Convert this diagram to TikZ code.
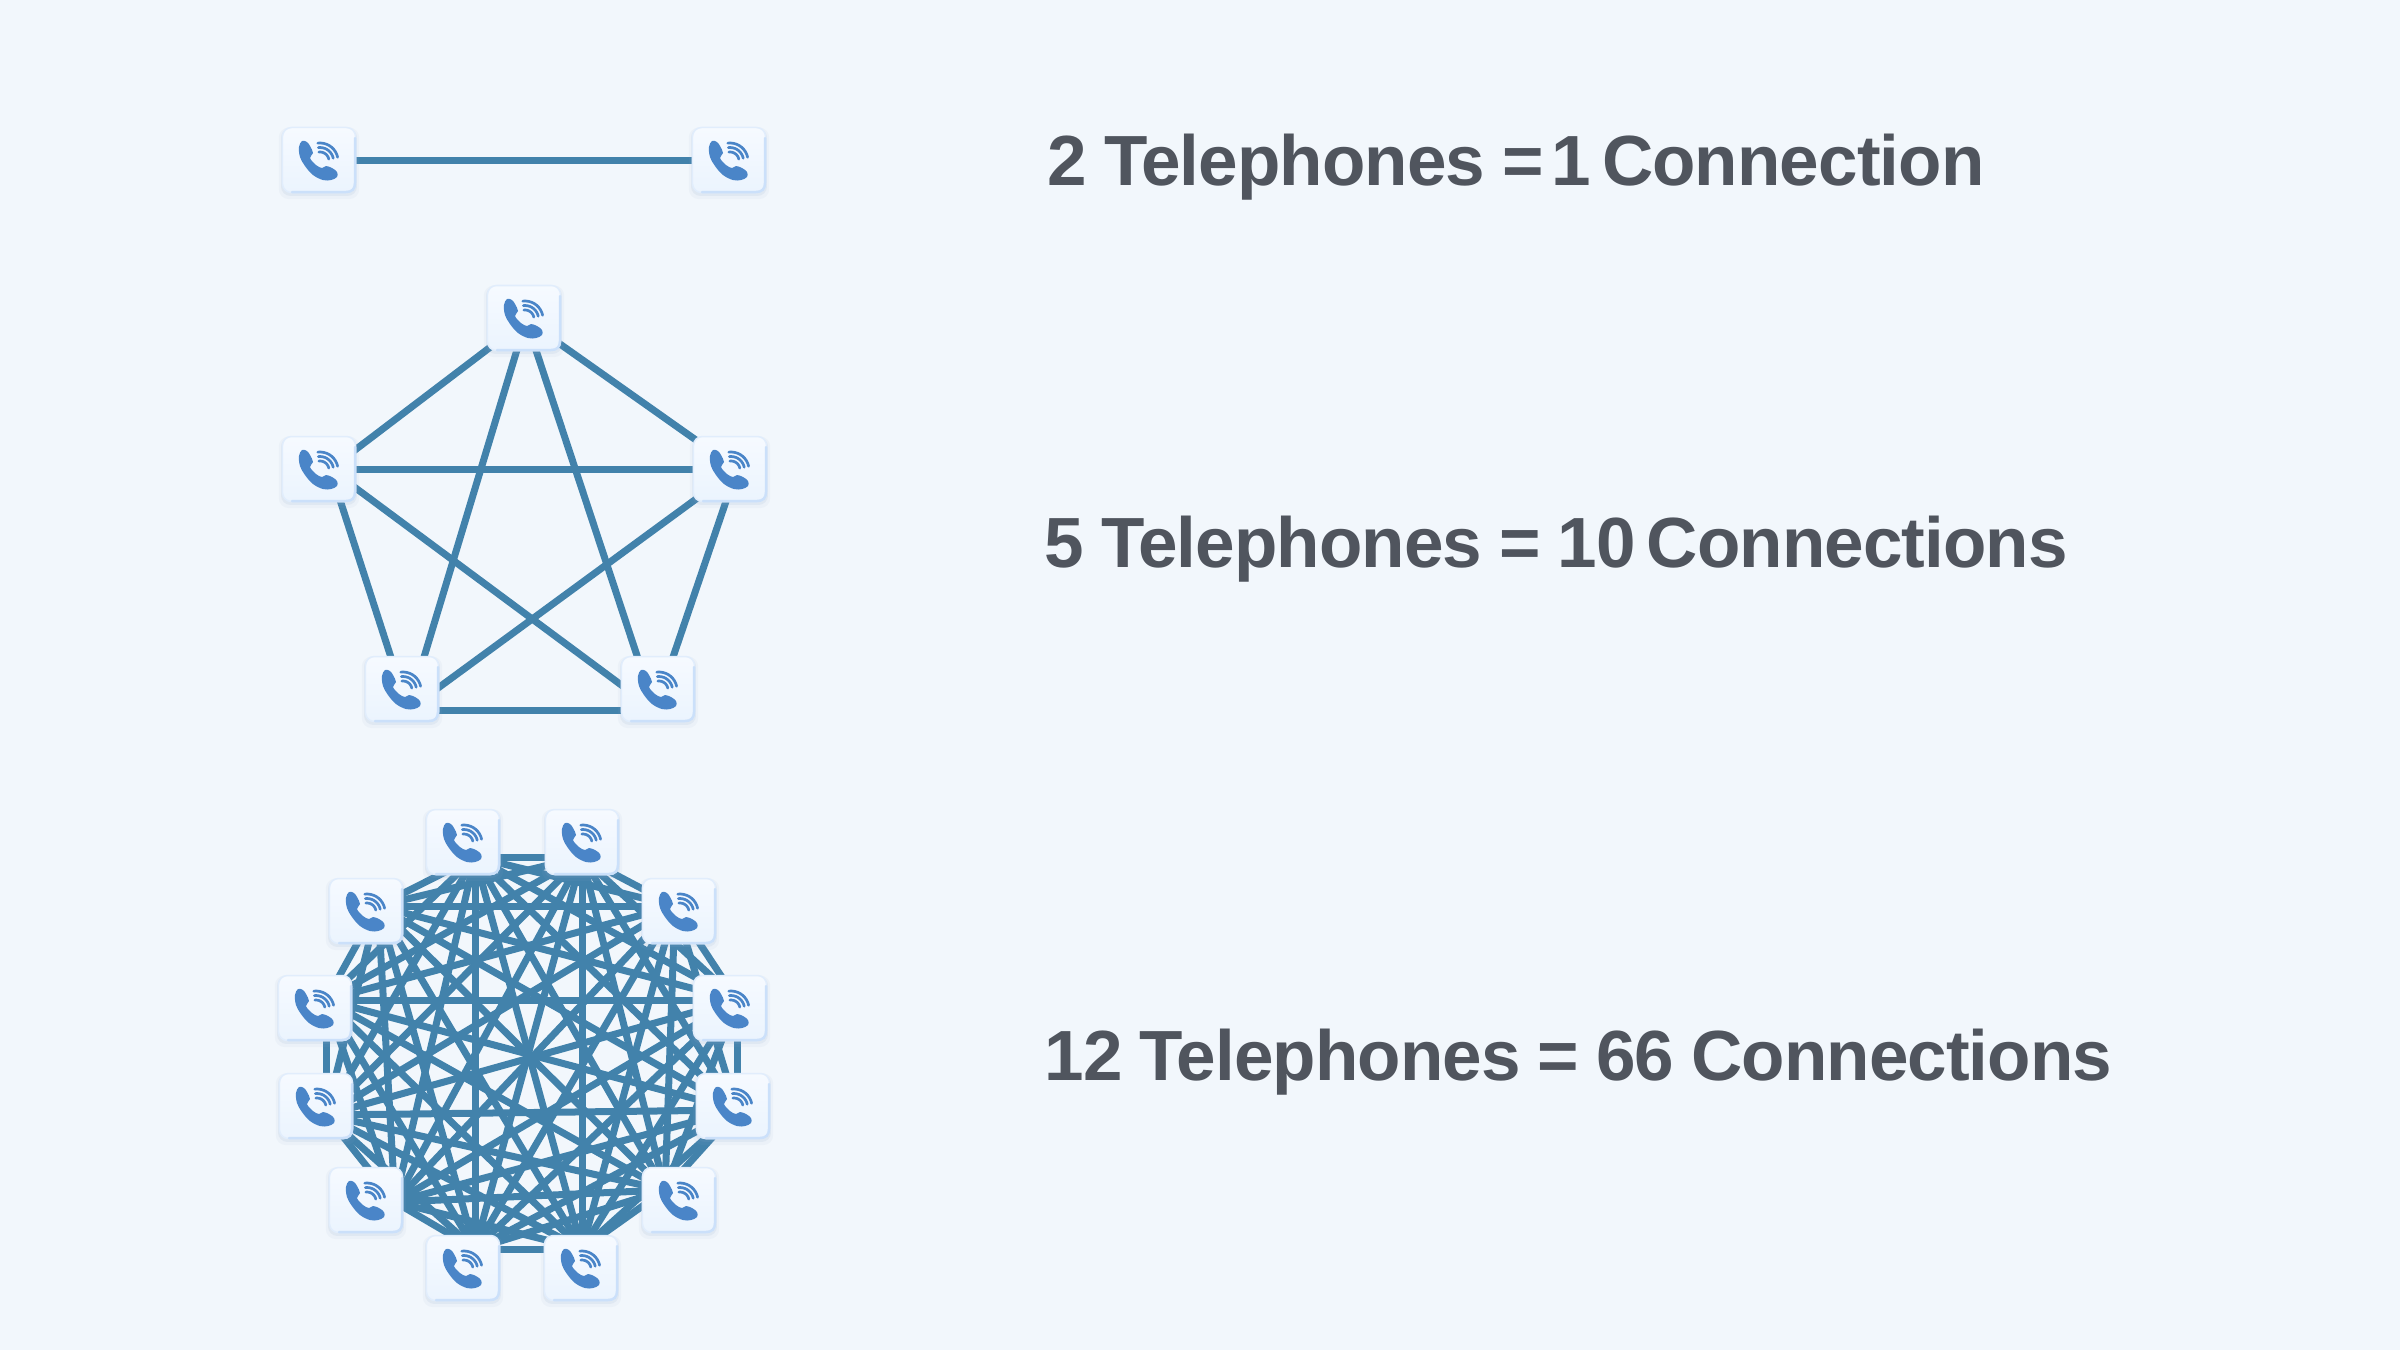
\documentclass[tikz,border=0pt]{standalone}
\usepackage{fontspec}
\setmainfont[LetterSpace=-1.3,WordSpace=0.9]{Liberation Sans}
\usetikzlibrary{backgrounds,shadows}
\definecolor{pagebg}{HTML}{F2F7FC}
\definecolor{wirecol}{HTML}{4282AB}
\definecolor{boxtop}{HTML}{F6FAFF}
\definecolor{boxbot}{HTML}{EBF4FE}
\definecolor{boxedge}{HTML}{E1EDFC}
\definecolor{boxbevel}{HTML}{CBE0FA}
\definecolor{boxshade}{HTML}{8FA8C8}
\definecolor{iconcol}{HTML}{4A85C8}
\definecolor{textcol}{HTML}{50555E}
\tikzset{
    wire/.style={draw=wirecol,line width=0.07cm},
    phonebox/.style={
        rectangle,rounded corners=0.09cm,minimum width=0.73cm,minimum height=0.65cm,inner sep=0pt,
        top color=boxtop,bottom color=boxbot,draw=boxedge,line width=0.015cm,
        general shadow={fill=boxshade,shadow yshift=-0.03cm,shadow scale=1.10,opacity=0.07},
        general shadow={fill=boxshade,shadow yshift=-0.02cm,shadow scale=1.04,opacity=0.12}},
    rowlabel/.style={anchor=base west,inner sep=0pt,text=textcol,font=\fontsize{20.2pt}{24pt}\bfseries},
    phoneicon/.pic={
        \draw[boxbevel,line width=0.025cm,line cap=round]
            (36,-22)--(36,23)..controls(36,29)and(33,32)..(27,32)--(-27,32);
        \fill[iconcol] plot[smooth cycle,tension=0.6] coordinates
            {(-17,-19)(-12,-18)(-9,-14)(-6,-7)(-9,-2)(-3,5)(3,8)(7,6)(13,8)(18,12)(18,17)(12,20)(4,20)(-6,15)(-14,6)(-19,-3)(-20,-13)};
        \foreach \r in {9,13.5,18}
            \draw[iconcol,line width=0.027cm,line cap=round]
            plot[domain=-97:-12,samples=10,smooth] ({1+\r*cos(\x)},{1+\r*sin(\x)});
    }
}
\begin{document}
\begin{tikzpicture}[x=0.01cm,y=-0.01cm]
    \useasboundingbox(0,0)rectangle(2400,1350);
    % two telephones
    \foreach \name/\x/\y in {a1/319/160,a2/729/160}
        {
            \node[phonebox] (\name) at (\x,\y) {};
            \pic at (\name) {phoneicon};
        }
    % five telephones, c is where the wires end
    \foreach \i/\x/\y/\cx/\cy in {1/524/318/526/320,2/730/469/737/469,3/658/689/655/710,4/402/689/408/710,5/319/469/330/469}
        {
            \node[phonebox] (b\i) at (\x,\y) {};
            \pic at (b\i) {phoneicon};
            \coordinate (c\i) at (\cx,\cy);
        }
    % twelve telephones
    \foreach \i/\x/\y/\cx/\cy in {1/463/842/475/857,2/582/842/582/857,3/679/911/675/906,4/730/1008/737/1000,
            5/733/1106/737/1110,6/679/1200/665/1190,7/581/1268/582/1249,8/463/1268/475/1249,
            9/366/1200/395/1202,10/316/1106/326/1115,11/315/1008/326/1000,12/366/911/378/906}
        {
            \node[phonebox] (d\i) at (\x,\y) {};
            \pic at (d\i) {phoneicon};
            \coordinate (e\i) at (\cx,\cy);
        }
    \begin{scope}[on background layer]
        \fill[pagebg] (0,0) rectangle (2400,1350);
        \draw[wire] (a1)--(a2);
        \foreach \i in {1,...,5}
            \foreach \j in {\i,...,5}
                {\ifnum\i<\j \draw[wire] (c\i)--(c\j);\fi}
        \foreach \i in {1,...,12}
            \foreach \j in {\i,...,12}
                {\ifnum\i<\j \draw[wire] (e\i)--(e\j);\fi}
    \end{scope}
    \node[rowlabel] (row1) at (1047,185) {2 Telephones =\kern-0.09cm{} 1\kern-0.06cm{} Connection};
    \node[rowlabel] (row2) at (1044,567) {5 Telephones = 10\kern-0.06cm{} Connections};
    \node[rowlabel] (row3) at (1044,1080) {12 Telephones = 66 Connections};
\end{tikzpicture}
\end{document}
